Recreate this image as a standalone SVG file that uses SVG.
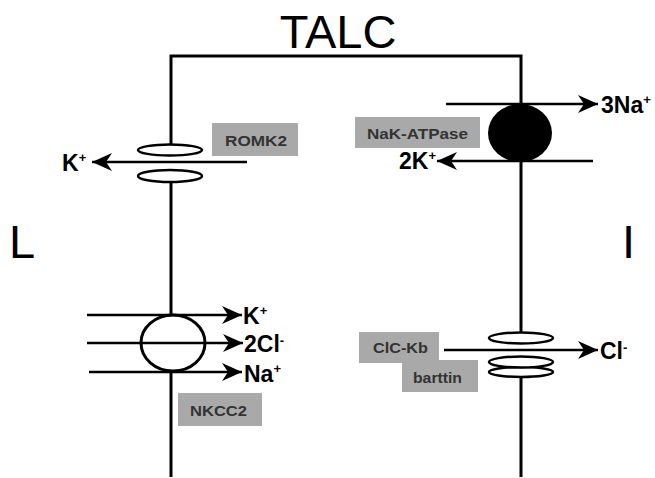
<svg xmlns="http://www.w3.org/2000/svg" width="655" height="478" viewBox="0 0 655 478">
<defs>
<style>
.ln{stroke:#000;stroke-width:2.5;fill:none}
.mem{stroke:#000;stroke-width:3;fill:none}
.ch{stroke:#000;stroke-width:2.5;fill:#fff}
.box{fill:#a9a9a9}
.bl{font-family:"Liberation Sans",Arial,sans-serif;font-size:15px;font-weight:bold;fill:#333}
.ion{font-family:"Liberation Sans",Arial,sans-serif;font-size:23px;font-weight:bold;fill:#000}
.sup{font-size:13px}
.big{font-family:"Liberation Sans",Arial,sans-serif;font-size:47px;fill:#000}
</style>
<marker id="ah" markerUnits="userSpaceOnUse" markerWidth="22" markerHeight="20" refX="20" refY="9" orient="auto">
<path d="M0,0 L20,9 L0,18 L6,9 Z" fill="#000"/>
</marker>
</defs>
<rect width="655" height="478" fill="#fff"/>

<g id="title">
<text class="big" x="338" y="48" text-anchor="middle">TALC</text>
<text class="big" x="9" y="258">L</text>
<text class="big" x="622" y="258">I</text>
</g>

<g id="cell">
<path class="mem" d="M171,477 V56 H521 V477"/>
<rect x="150" y="155" width="40" height="17" fill="#fff"/>
<rect x="500" y="343" width="42" height="14" fill="#fff"/>
</g>

<g id="romk2">
<ellipse class="ch" cx="170" cy="150" rx="32" ry="5.5"/>
<ellipse class="ch" cx="170" cy="176" rx="32" ry="6"/>
<rect class="box" x="212" y="123" width="86" height="33"/>
<text class="bl" x="225" y="146" textLength="62" lengthAdjust="spacingAndGlyphs">ROMK2</text>
</g>

<g id="nak">
<ellipse cx="520" cy="133" rx="32" ry="29" fill="#000"/>
<rect class="box" x="355" y="117" width="125" height="31"/>
<text class="bl" x="367" y="139" textLength="101" lengthAdjust="spacingAndGlyphs">NaK-ATPase</text>
</g>

<g id="nkcc2">
<ellipse class="ch" cx="173" cy="343" rx="32" ry="28" style="stroke-width:3"/>
<rect class="box" x="178" y="393" width="84" height="33"/>
<text class="bl" x="190" y="416" textLength="57" lengthAdjust="spacingAndGlyphs">NKCC2</text>
</g>

<g id="clckb">
<ellipse class="ch" cx="521" cy="338" rx="32" ry="5.5"/>
<ellipse class="ch" cx="521" cy="372" rx="32" ry="5"/>
<ellipse class="ch" cx="521" cy="362" rx="32" ry="5.5"/>
<rect class="box" x="359" y="332" width="80" height="31"/>
<text class="bl" x="373" y="353" textLength="55" lengthAdjust="spacingAndGlyphs">ClC-Kb</text>
<rect class="box" x="402" y="360" width="76" height="32"/>
<text class="bl" x="413" y="383" textLength="49" lengthAdjust="spacingAndGlyphs">barttin</text>
</g>

<g id="connectors">
<line class="ln" x1="247" y1="162" x2="92" y2="162" marker-end="url(#ah)"/>
<line class="ln" x1="446" y1="104" x2="598" y2="104" marker-end="url(#ah)"/>
<line class="ln" x1="593" y1="161" x2="437" y2="161" marker-end="url(#ah)"/>
<line class="ln" x1="87" y1="315" x2="242" y2="315" marker-end="url(#ah)"/>
<line class="ln" x1="87" y1="343" x2="243" y2="343" marker-end="url(#ah)"/>
<line class="ln" x1="89" y1="372" x2="242" y2="372" marker-end="url(#ah)"/>
<line class="ln" x1="444" y1="350" x2="598" y2="350" marker-end="url(#ah)"/>
</g>

<g id="ions">
<text class="ion" x="62" y="171">K<tspan class="sup" dy="-9">+</tspan></text>
<text class="ion" x="601" y="113">3Na<tspan class="sup" dy="-9">+</tspan></text>
<text class="ion" x="399" y="169">2K<tspan class="sup" dy="-9">+</tspan></text>
<text class="ion" x="243" y="324">K<tspan class="sup" dy="-9">+</tspan></text>
<text class="ion" x="244" y="352">2Cl<tspan class="sup" dy="-7">-</tspan></text>
<text class="ion" x="244" y="382">Na<tspan class="sup" dy="-9">+</tspan></text>
<text class="ion" x="600" y="359">Cl<tspan class="sup" dy="-7">-</tspan></text>
</g>
</svg>
